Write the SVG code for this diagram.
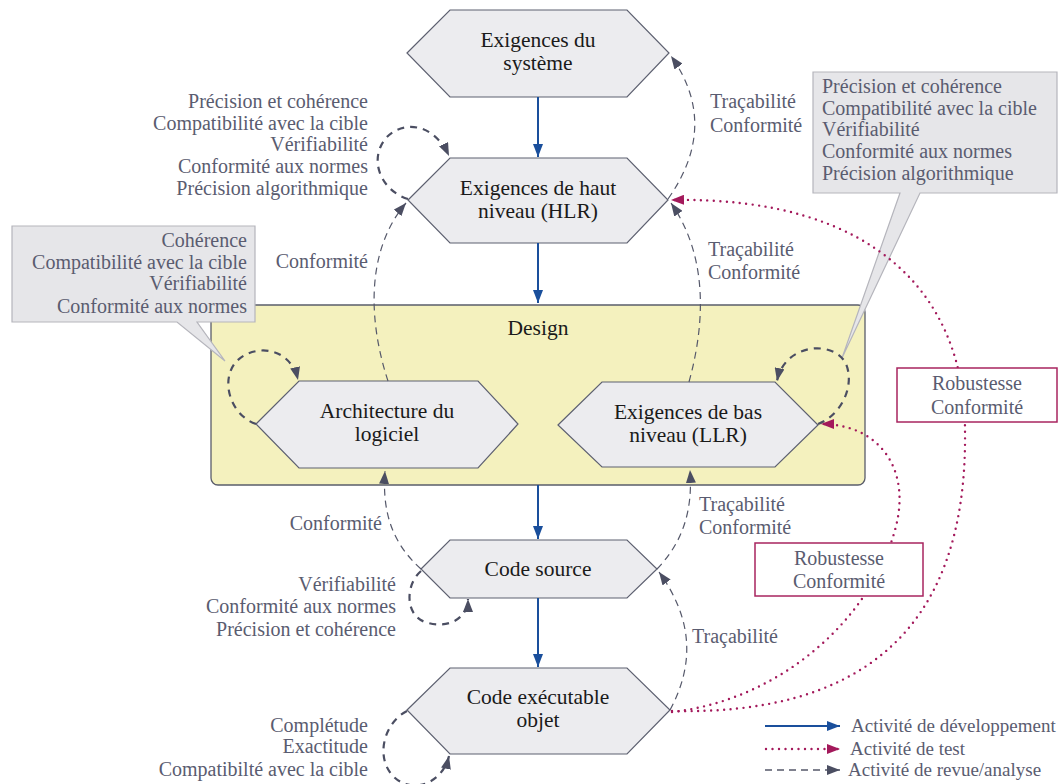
<svg xmlns="http://www.w3.org/2000/svg" width="1059" height="784" viewBox="0 0 1059 784">
<style>
.hex{fill:#ececef;stroke:#5d6070;stroke-width:1.2}
.nt{font-family:"Liberation Serif",serif;font-size:21.5px;fill:#1a1a1a;text-anchor:middle}
.lb{font-family:"Liberation Serif",serif;font-size:20px;fill:#5a5c70}
.lg{font-family:"Liberation Serif",serif;font-size:19px;fill:#5a5c70}
.r{text-anchor:end}
.m{text-anchor:middle}
.dev{stroke:#1a4f9c;stroke-width:2;fill:none}
.rev{stroke:#55586a;stroke-width:1.2;stroke-dasharray:7 5;fill:none}
.loop{stroke:#4b4e62;stroke-width:2.2;stroke-dasharray:7 6;fill:none}
.test{stroke:#a3195b;stroke-width:2.4;stroke-dasharray:0 6.5;stroke-linecap:round;fill:none}
.call{fill:#e6e6e9;stroke:#b5b5bc;stroke-width:1.2}
.rob{fill:#fff;stroke:#a8245f;stroke-width:1.5}
</style>
<defs>
<marker id="aBlue" markerUnits="userSpaceOnUse" viewBox="0 0 13 10" refX="13" refY="5" markerWidth="13" markerHeight="10" orient="auto"><path d="M0,0 L13,5 L0,10 z" fill="#1a4f9c"/></marker>
<marker id="aGray" markerUnits="userSpaceOnUse" viewBox="0 0 13 10" refX="13" refY="5" markerWidth="13" markerHeight="10" orient="auto"><path d="M0,0 L13,5 L0,10 z" fill="#4b4e62"/></marker>
<marker id="aPink" markerUnits="userSpaceOnUse" viewBox="0 0 13 10" refX="13" refY="5" markerWidth="13" markerHeight="10" orient="auto"><path d="M0,0 L13,5 L0,10 z" fill="#a3195b"/></marker>
</defs>

<g id="design">
<rect x="211" y="305" width="654" height="180" rx="7" fill="#f4f1be" stroke="#5a5d6b" stroke-width="1.3"/>
<text class="nt" x="538" y="335">Design</text>
</g>

<g id="callout-left">
<path class="call" d="M12,226 H255 V322 H197 L225,361 L177,322 H12 Z"/>
<text class="lb r" x="247" y="247">Cohérence</text>
<text class="lb r" x="247" y="268.5">Compatibilité avec la cible</text>
<text class="lb r" x="247" y="290">Vérifiabilité</text>
<text class="lb r" x="247" y="313">Conformité aux normes</text>
</g>

<g id="callout-right">
<path class="call" d="M813,72 H1057 V193 H920 L842,358 L900,193 H813 Z"/>
<text class="lb" x="822" y="93">Précision et cohérence</text>
<text class="lb" x="822" y="115">Compatibilité avec la cible</text>
<text class="lb" x="822" y="136">Vérifiabilité</text>
<text class="lb" x="822" y="158">Conformité aux normes</text>
<text class="lb" x="822" y="180">Précision algorithmique</text>
</g>

<g id="n-sys">
<polygon class="hex" points="407,53 450,10 627,10 669,53 627,97 450,97"/>
<text class="nt" x="538" y="47">Exigences du</text>
<text class="nt" x="538" y="70">système</text>
</g>
<g id="n-hlr">
<polygon class="hex" points="408,200 450,158 627,158 668,200 627,243 450,243"/>
<text class="nt" x="538" y="195">Exigences de haut</text>
<text class="nt" x="538" y="218">niveau (HLR)</text>
</g>
<g id="n-arch">
<polygon class="hex" points="256,424 299,381 478,381 518,424 478,468 299,468"/>
<text class="nt" x="387" y="418">Architecture du</text>
<text class="nt" x="387" y="441">logiciel</text>
</g>
<g id="n-llr">
<polygon class="hex" points="558,425 602,382 775,382 818,425 775,467 602,467"/>
<text class="nt" x="688" y="419">Exigences de bas</text>
<text class="nt" x="688" y="442">niveau (LLR)</text>
</g>
<g id="n-src">
<polygon class="hex" points="421,569 450,540 627,540 657,569 627,598 450,598"/>
<text class="nt" x="538" y="576">Code source</text>
</g>
<g id="n-exe">
<polygon class="hex" points="407,710 450,668 627,668 670,710 627,754 450,754"/>
<text class="nt" x="538" y="704">Code exécutable</text>
<text class="nt" x="538" y="727">objet</text>
</g>

<g id="connectors">
<path class="dev" d="M538,97 V157" marker-end="url(#aBlue)"/>
<path class="dev" d="M538,243 V303" marker-end="url(#aBlue)"/>
<path class="dev" d="M538,485 V539" marker-end="url(#aBlue)"/>
<path class="dev" d="M538,598 V667" marker-end="url(#aBlue)"/>

<path class="rev" d="M668,199 Q720,125 671,56" marker-end="url(#aGray)"/>
<path class="rev" d="M689,382 C706,320 707,255 671,203" marker-end="url(#aGray)"/>
<path class="rev" d="M388,381 C368,320 366,250 406,203" marker-end="url(#aGray)"/>
<path class="rev" d="M421,569 C392,543 382,512 385,471" marker-end="url(#aGray)"/>
<path class="rev" d="M657,569 C682,543 693,512 690,470" marker-end="url(#aGray)"/>
<path class="rev" d="M670,710 C697,660 690,615 659,572" marker-end="url(#aGray)"/>

<path class="loop" d="M408,199 C385,192 372,168 380,148 C390,122 430,115 449,156" marker-end="url(#aGray)"/>
<path class="loop" d="M256,424 C230,415 220,380 236,362 C252,344 290,345 298,380" marker-end="url(#aGray)"/>
<path class="loop" d="M818,424 C842,415 855,385 846,364 C835,340 785,342 777,381" marker-end="url(#aGray)"/>
<path class="loop" d="M421,571 C405,585 405,615 425,622 C448,630 468,618 468,599" marker-end="url(#aGray)"/>
<path class="loop" d="M407,711 C385,722 375,755 392,775 C410,795 442,785 449,756" marker-end="url(#aGray)"/>

<path class="test" d="M672,711 C850,715 968,640 965,430 C965,300 880,196 671,200" marker-end="url(#aPink)"/>
<path class="test" d="M672,712 C780,700 870,620 895,530 C912,470 880,424 821,424" marker-end="url(#aPink)"/>
</g>

<g id="rob-hlr">
<rect class="rob" x="897" y="368" width="160" height="54"/>
<text class="lb m" x="977" y="390">Robustesse</text>
<text class="lb m" x="977" y="414">Conformité</text>
</g>
<g id="rob-llr">
<rect class="rob" x="755" y="543" width="168" height="53"/>
<text class="lb m" x="839" y="565">Robustesse</text>
<text class="lb m" x="839" y="588">Conformité</text>
</g>

<g id="labels">
<text class="lb r" x="368" y="108">Précision et cohérence</text>
<text class="lb r" x="368" y="130">Compatibilité avec la cible</text>
<text class="lb r" x="368" y="151">Vérifiabilité</text>
<text class="lb r" x="368" y="173">Conformité aux normes</text>
<text class="lb r" x="368" y="195">Précision algorithmique</text>

<text class="lb" x="710" y="108">Traçabilité</text>
<text class="lb" x="710" y="132">Conformité</text>
<text class="lb" x="708" y="256">Traçabilité</text>
<text class="lb" x="708" y="279">Conformité</text>
<text class="lb r" x="368" y="268">Conformité</text>

<text class="lb r" x="382" y="530">Conformité</text>
<text class="lb" x="699" y="511">Traçabilité</text>
<text class="lb" x="699" y="534">Conformité</text>

<text class="lb r" x="396" y="591">Vérifiabilité</text>
<text class="lb r" x="396" y="613">Conformité aux normes</text>
<text class="lb r" x="396" y="636">Précision et cohérence</text>
<text class="lb" x="692" y="643">Traçabilité</text>

<text class="lb r" x="368" y="732">Complétude</text>
<text class="lb r" x="368" y="753">Exactitude</text>
<text class="lb r" x="368" y="776">Compatibilté avec la cible</text>
</g>

<g id="legend">
<path class="dev" d="M765,726 H840" marker-end="url(#aBlue)"/>
<path class="test" d="M766,749 H840" marker-end="url(#aPink)"/>
<path d="M765,770 H840" fill="none" stroke="#55586a" stroke-width="1.3" stroke-dasharray="7 5" marker-end="url(#aGray)"/>
<text class="lg" x="851" y="732">Activité de développement</text>
<text class="lg" x="850" y="755">Activité de test</text>
<text class="lg" x="848" y="776">Activité de revue/analyse</text>
</g>
</svg>
